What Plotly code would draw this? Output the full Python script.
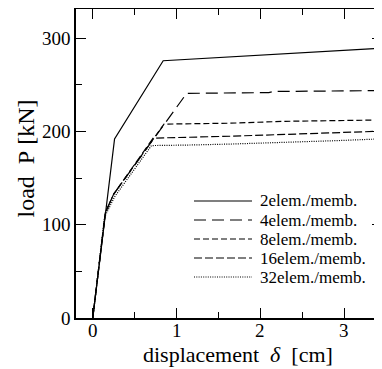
import plotly.graph_objects as go

# ---- data ----
disp_2 = [0, 0.26, 0.84, 1.64, 2.55, 3.5]
load_2 = [0, 192, 276, 280.3, 285, 289.8]

disp_4 = [0, 0.15, 0.25, 1.12, 2.1, 2.15, 3.5]
load_4 = [0, 113, 133, 241, 241.8, 243, 244]

disp_8 = [0, 0.15, 0.25, 0.85, 1.64, 2.3, 3.5]
load_8 = [0, 113, 133, 208, 209, 211, 212.5]

disp_16 = [0, 0.15, 0.25, 0.72, 1.64, 2.5, 3.2, 3.5]
load_16 = [0, 113, 133, 193, 195, 197.4, 200, 200.6]

disp_32 = [0, 0.14, 0.26, 0.70, 1.12, 1.64, 2.95, 3.5]
load_32 = [0, 108, 130, 185, 185.5, 186.6, 190.4, 192.4]

series_names = ["2elem./memb.", "4elem./memb.", "8elem./memb.",
                "16elem./memb.", "32elem./memb."]
x_ticks = [0, 1, 2, 3]
x_tick_labels = ["0", "1", "2", "3"]
y_ticks = [0, 100, 200, 300]
x_title = "displacement\u00a0\u00a0<i>δ</i>\u00a0\u00a0[cm]"
y_title = "load\u00a0\u00a0P\u00a0[kN]"

# ---- styles ----
dashes = ["solid", "12px,6px", "6px,3px", "8px,3px", "1px,1.3px"]
widths = [1.2, 1.2, 1.2, 1.2, 1.2]
FONT = "Liberation Serif, Times New Roman, serif"

xs = [disp_2, disp_4, disp_8, disp_16, disp_32]
ys = [load_2, load_4, load_8, load_16, load_32]

fig = go.Figure()
for x, y, name, d, w in zip(xs, ys, series_names, dashes, widths):
    fig.add_trace(go.Scatter(x=x, y=y, mode="lines", name=name,
                             line=dict(color="black", width=w, dash=d),
                             showlegend=False))

# dummy trace for right-side tick axis
fig.add_trace(go.Scatter(x=[None], y=[None], yaxis="y2", showlegend=False))

# page has an 8px body margin, so the figure is drawn at (8, 8)
OFF = 8
W, H = 382 - OFF, 369 - OFF
# plot area in page pixels
PL, PR, PT, PB = 76, 382, 9, 318
L, R, T, B = PL - OFF, PR - OFF, PT - OFF, PB - OFF

def px2paper_x(px):
    return (px - PL) / (PR - PL)
def px2paper_y(py):
    return (PB - py) / (PB - PT)

# custom legend
row_y = [201, 220, 239, 258, 277]
for name, d, w, ry in zip(series_names, dashes, widths, row_y):
    fig.add_shape(type="line", xref="paper", yref="paper",
                  x0=px2paper_x(194), x1=px2paper_x(252),
                  y0=px2paper_y(ry), y1=px2paper_y(ry),
                  line=dict(color="black", width=w, dash=d))
    fig.add_annotation(xref="paper", yref="paper",
                       x=px2paper_x(258), y=px2paper_y(ry),
                       text=name, showarrow=False, xanchor="left",
                       yanchor="middle",
                       font=dict(family=FONT, size=17, color="black"))

# x tick labels placed on the x data scale
for tv, tl in zip(x_ticks, x_tick_labels):
    fig.add_annotation(xref="x", yref="paper", x=tv, y=px2paper_y(330),
                       text=tl, showarrow=False,
                       xanchor="center", yanchor="middle",
                       font=dict(family=FONT, size=19, color="black"))

# axis titles as annotations
fig.add_annotation(xref="paper", yref="paper",
                   x=px2paper_x(237.5), y=px2paper_y(354),
                   text=x_title, showarrow=False,
                   xanchor="center", yanchor="middle",
                   font=dict(family=FONT, size=22, color="black"))
fig.add_annotation(xref="paper", yref="paper",
                   x=px2paper_x(25), y=px2paper_y(158.5),
                   text=y_title, showarrow=False, textangle=-90,
                   xanchor="center", yanchor="middle",
                   font=dict(family=FONT, size=24, color="black"))

axis_common = dict(
    showgrid=False, zeroline=False,
    ticks="inside", ticklen=10, tickwidth=1.2, tickcolor="black",
    linecolor="black", linewidth=1.6,
    tickfont=dict(family=FONT, size=19, color="black"),
    automargin=False,
)

fig.update_layout(
    width=W, height=H,
    margin=dict(l=L, r=W - R, t=T, b=H - B, autoexpand=False),
    paper_bgcolor="white", plot_bgcolor="white",
    font=dict(family=FONT, color="black"),
    xaxis=dict(
        range=[-0.2, 3.45], tickvals=x_ticks, showticklabels=False,
        showline=True, mirror="ticks",
        minor=dict(dtick=0.5, tick0=0, ticks="inside", ticklen=6,
                   tickwidth=1.2, tickcolor="black"),
        **axis_common,
    ),
    yaxis=dict(
        range=[0, 331.5], tickvals=y_ticks,
        showline=True, mirror=False,
        minor=dict(dtick=50, tick0=0, ticks="inside", ticklen=6,
                   tickwidth=1.2, tickcolor="black"),
        ticklabelstandoff=0,
        **axis_common,
    ),
    yaxis2=dict(
        overlaying="y", side="right", anchor="x",
        range=[0, 331.5], tickvals=y_ticks, showticklabels=False,
        showline=False, showgrid=False, zeroline=False,
        ticks="inside", ticklen=10, tickwidth=1.2, tickcolor="black",
        minor=dict(dtick=50, tick0=0, ticks="inside", ticklen=6,
                   tickwidth=1.2, tickcolor="black"),
    ),
)

fig.write_html("out.html")
